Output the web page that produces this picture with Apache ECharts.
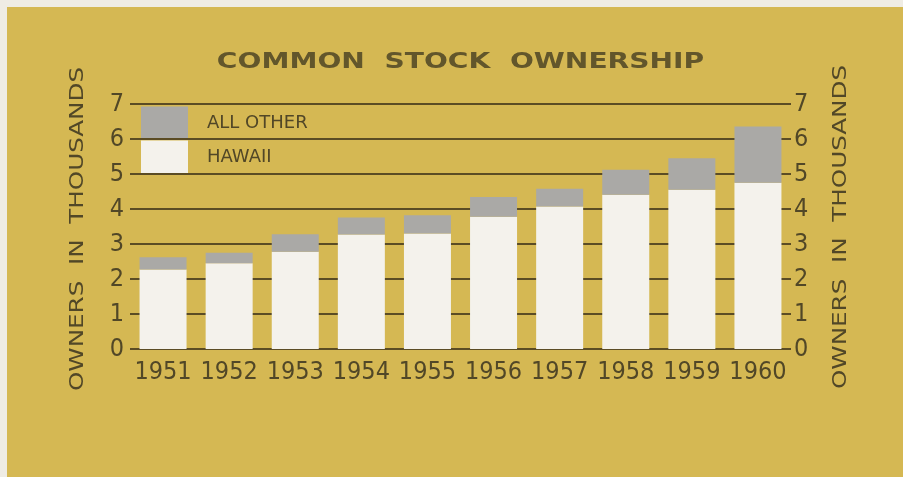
<!DOCTYPE html>
<html>
<head>
<meta charset="utf-8">
<title>Common Stock Ownership</title>
<script src="https://cdn.jsdelivr.net/npm/echarts@6.0.0/dist/echarts.min.js"></script>
<style>
  html, body { margin: 0; padding: 0; background: #efece4; }
  #chart { position: absolute; left: 7px; top: 7px; width: 896px; height: 470px; }
</style>
</head>
<body>
<div id="chart"></div>
<script>
// Owners of common stock, in thousands, by year
const years = ['1951', '1952', '1953', '1954', '1955', '1956', '1957', '1958', '1959', '1960'];
const hawaii = [2.27, 2.45, 2.78, 3.27, 3.30, 3.78, 4.07, 4.41, 4.55, 4.75];
const allOther = [0.35, 0.30, 0.50, 0.49, 0.52, 0.56, 0.51, 0.71, 0.90, 1.61];
const yTicks = [0, 1, 2, 3, 4, 5, 6, 7];

const INK = '#514727';
const GRID = '#5b4c24';
const numFont = "'DejaVu Sans Condensed', 'Liberation Sans Narrow', sans-serif";

const chart = echarts.init(document.getElementById('chart'), null, { renderer: 'canvas' });

const yAxisBase = {
  type: 'value',
  min: yTicks[0],
  max: yTicks[yTicks.length - 1],
  interval: 1,
  z: 1,
  axisLine: { show: false },
  axisTick: { show: false },
  axisLabel: { color: INK, fontFamily: numFont, fontSize: 25 }
};

chart.setOption({
  backgroundColor: '#d5b853',
  animation: false,
  grid: { left: 123, right: 112, top: 97, bottom: 128 },
  legend: {
    data: ['ALL OTHER', 'HAWAII'],
    orient: 'vertical',
    left: 134,
    top: 99.5,
    padding: 0,
    itemWidth: 47,
    itemHeight: 33,
    itemGap: 1,
    icon: 'rect',
    z: 0,
    selectedMode: false,
    textStyle: {
      color: INK,
      fontFamily: "'DejaVu Sans', sans-serif",
      fontSize: 18,
      padding: [0, 0, 0, 14]
    }
  },
  xAxis: {
    type: 'category',
    data: years,
    axisLine: { show: false },
    axisTick: { show: false },
    axisLabel: { color: INK, fontFamily: numFont, fontSize: 25, margin: 11, interval: 0 }
  },
  yAxis: [
    Object.assign({}, yAxisBase, {
      position: 'left',
      axisLabel: Object.assign({}, yAxisBase.axisLabel, { margin: 6 }),
      splitLine: { show: true, lineStyle: { color: GRID, width: 2 } }
    }),
    Object.assign({}, yAxisBase, {
      position: 'right',
      axisLabel: Object.assign({}, yAxisBase.axisLabel, { margin: 3 }),
      splitLine: { show: false }
    })
  ],
  series: [
    {
      name: 'HAWAII',
      type: 'bar',
      stack: 'owners',
      data: hawaii,
      barWidth: 47,
      z: 3,
      itemStyle: { color: '#f4f2ec' }
    },
    {
      name: 'ALL OTHER',
      type: 'bar',
      stack: 'owners',
      data: allOther,
      barWidth: 47,
      z: 3,
      itemStyle: { color: '#aaa9a6' }
    }
  ],
  graphic: [
    {
      type: 'text',
      x: 453.5,
      y: 56,
      scaleX: 1.34,
      style: {
        text: 'COMMON  STOCK  OWNERSHIP',
        fill: '#62562b',
        fontFamily: "'DejaVu Sans', sans-serif",
        fontWeight: 'bold',
        fontSize: 21,
        align: 'center',
        verticalAlign: 'middle'
      }
    },
    {
      type: 'text',
      x: 70.5,
      y: 222,
      rotation: Math.PI / 2,
      scaleX: 1.23,
      style: {
        text: 'OWNERS  IN  THOUSANDS',
        fill: INK,
        fontFamily: "'DejaVu Sans', sans-serif",
        fontSize: 20,
        align: 'center',
        verticalAlign: 'middle'
      }
    },
    {
      type: 'text',
      x: 834,
      y: 220,
      rotation: Math.PI / 2,
      scaleX: 1.23,
      style: {
        text: 'OWNERS  IN  THOUSANDS',
        fill: INK,
        fontFamily: "'DejaVu Sans', sans-serif",
        fontSize: 20,
        align: 'center',
        verticalAlign: 'middle'
      }
    }
  ]
});
</script>
</body>
</html>
